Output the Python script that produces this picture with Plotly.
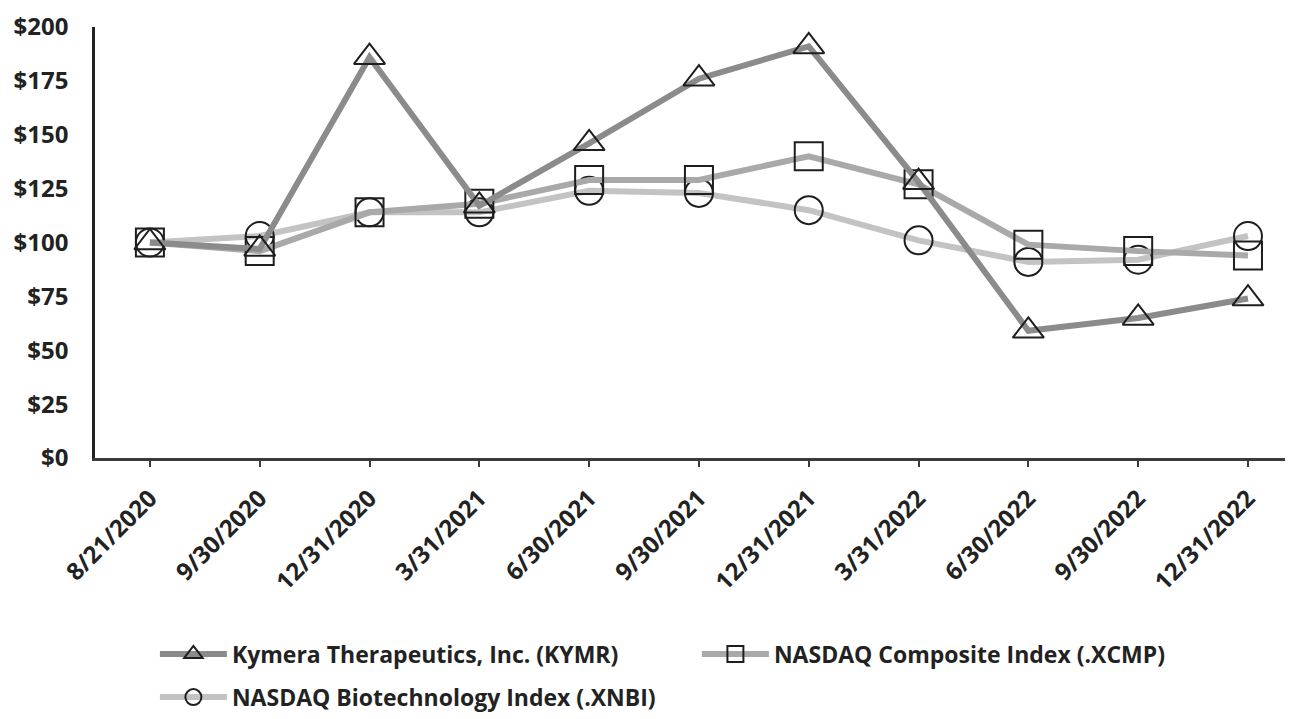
import plotly.graph_objects as go

dates = ["8/21/2020", "9/30/2020", "12/31/2020", "3/31/2021", "6/30/2021", "9/30/2021",
         "12/31/2021", "3/31/2022", "6/30/2022", "9/30/2022", "12/31/2022"]
kymr = [100, 97, 186, 117, 146, 176, 191, 128, 59, 65, 74]
xcmp = [100, 96, 114, 118, 129, 129, 140, 127, 99, 96, 94]
xnbi = [100, 103, 114, 114, 124, 123, 115, 101, 91, 92, 103]
yticks = [0, 25, 50, 75, 100, 125, 150, 175, 200]

FONT = "Open Sans"
fig = go.Figure()

series = [
    ("NASDAQ Biotechnology Index (.XNBI)", xnbi, "#c3c3c3", "circle-open", 3, 28, "legend2"),
    ("NASDAQ Composite Index (.XCMP)", xcmp, "#a9a9a9", "square-open", 2, 28, "legend"),
    ("Kymera Therapeutics, Inc. (KYMR)", kymr, "#8b8b8b", "triangle-up-open", 1, 27, "legend"),
]
for name, vals, col, sym, rank, sz, lg in series:
    fig.add_trace(go.Scatter(
        x=list(range(len(dates))), y=vals, name=name, mode="lines+markers",
        line=dict(color=col, width=6),
        marker=dict(symbol=sym, size=sz, color="#1e1e1e", line=dict(width=2, color="#1e1e1e")),
        legendrank=rank, legend=lg,
    ))

legfont = dict(family=FONT, size=23, color="#222", weight="bold")
fig.update_layout(
    template="none",
    width=1285, height=711,
    paper_bgcolor="white", plot_bgcolor="white",
    margin=dict(l=87, r=0, t=19, b=254),
    font=dict(family=FONT, size=20, color="#222"),
    showlegend=True,
    legend=dict(orientation="h", x=0.05, y=-0.405, xanchor="left", yanchor="top",
                font=legfont, entrywidth=460, entrywidthmode="pixels", itemwidth=67,
                traceorder="normal", bgcolor="rgba(0,0,0,0)"),
    legend2=dict(orientation="h", x=0.05, y=-0.505, xanchor="left", yanchor="top",
                 font=legfont, itemwidth=67, bgcolor="rgba(0,0,0,0)"),
)
fig.update_xaxes(
    automargin=False,
    range=[-0.5, 10.41], tickmode="array", tickvals=list(range(len(dates))), ticktext=dates,
    tickangle=-45, showline=True, linecolor="#3a3a3a", linewidth=2.5,
    ticks="outside", ticklen=6, tickwidth=2, tickcolor="#3a3a3a",
    showgrid=False, zeroline=False, ticklabelstandoff=8,
    tickfont=dict(family=FONT, size=24, color="#222", weight="bold"),
)
fig.update_yaxes(
    automargin=False,
    range=[0, 200], tickmode="array", tickvals=yticks, ticktext=[f"${v}" for v in yticks],
    showline=True, linecolor="#222", linewidth=2.5, ticks="", showgrid=False, zeroline=False,
    ticklabelstandoff=19,
    tickfont=dict(family=FONT, size=24, color="#222", weight="bold"),
)

fig.write_html("out.html")
